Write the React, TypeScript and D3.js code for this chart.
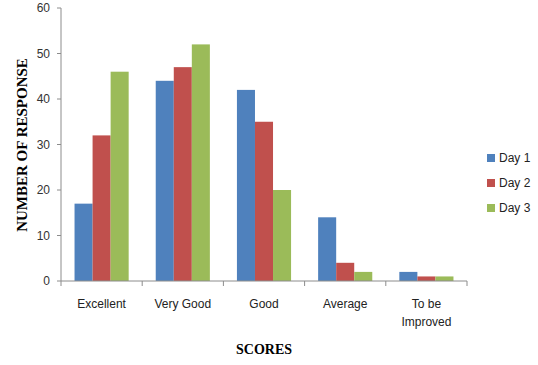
import * as d3 from "d3";
import React from "react";

const categories = ["Excellent", "Very Good", "Good", "Average", "To be Improved"];
const seriesNames = ["Day 1", "Day 2", "Day 3"];
const day1 = [17, 44, 42, 14, 2];
const day2 = [32, 47, 35, 4, 1];
const day3 = [46, 52, 20, 2, 1];
const yTicks = [0, 10, 20, 30, 40, 50, 60];
const colors = ["#4F81BD", "#C0504D", "#9BBB59"];

const width = 538;
const height = 365;
const margin = { top: 8, right: 71, bottom: 84, left: 61 };

export default function App() {
  const values = [day1, day2, day3];

  const x = d3
    .scaleBand()
    .domain(categories)
    .range([margin.left, width - margin.right]);

  const inner = d3
    .scaleBand()
    .domain(seriesNames)
    .range([0, x.bandwidth()])
    .paddingOuter(0.75)
    .paddingInner(0);

  const y = d3
    .scaleLinear()
    .domain([0, 60])
    .range([height - margin.bottom, margin.top]);

  const axisColor = "#8c8c8c";
  const labelFont = "'Liberation Sans', Arial, sans-serif";
  const y0 = y(0);

  const boundaries = categories.map((c) => x(c)).concat([width - margin.right]);

  return (
    <svg
      width={width}
      height={height}
      style={{ position: "absolute", left: 0, top: 0, background: "#fff" }}
    >
      {/* bars */}
      {values.map((vals, si) =>
        vals.map((v, ci) => (
          <rect
            key={`${si}-${ci}`}
            x={x(categories[ci]) + inner(seriesNames[si])}
            y={y(v)}
            width={inner.bandwidth()}
            height={y0 - y(v)}
            fill={colors[si]}
          />
        ))
      )}

      {/* y axis */}
      <line x1={margin.left} x2={margin.left} y1={y(60)} y2={y0} stroke={axisColor} />
      {yTicks.map((t) => (
        <g key={t}>
          <line x1={margin.left - 4} x2={margin.left} y1={y(t)} y2={y(t)} stroke={axisColor} />
          <text
            x={margin.left - 11}
            y={y(t)}
            dy="0.35em"
            textAnchor="end"
            fontFamily={labelFont}
            fontSize={12}
            fill="#333"
          >
            {t}
          </text>
        </g>
      ))}

      {/* x axis */}
      <line x1={margin.left} x2={width - margin.right} y1={y0} y2={y0} stroke={axisColor} />
      {boundaries.map((b, i) => (
        <line key={i} x1={b} x2={b} y1={y0} y2={y0 + 5} stroke={axisColor} />
      ))}
      {categories.map((c) => {
        const cx = x(c) + x.bandwidth() / 2;
        const lines = c === "To be Improved" ? ["To be", "Improved"] : [c];
        return (
          <text
            key={c}
            x={cx}
            y={308}
            textAnchor="middle"
            fontFamily={labelFont}
            fontSize={12}
            fill="#222"
          >
            {lines.map((l, i) => (
              <tspan key={l} x={cx} dy={i === 0 ? 0 : 18}>
                {l}
              </tspan>
            ))}
          </text>
        );
      })}

      {/* axis titles */}
      <text
        x={264}
        y={354}
        textAnchor="middle"
        fontFamily="'Liberation Serif', 'Times New Roman', serif"
        fontWeight="bold"
        fontSize={14}
        fill="#000"
      >
        SCORES
      </text>
      <text
        transform={`translate(27,${145}) rotate(-90)`}
        textAnchor="middle"
        fontFamily="'Liberation Serif', 'Times New Roman', serif"
        fontWeight="bold"
        fontSize={15}
        fill="#000"
      >
        NUMBER OF RESPONSE
      </text>

      {/* legend */}
      {seriesNames.map((s, i) => (
        <g key={s} transform={`translate(487,${158 + i * 25})`}>
          <rect x={0} y={-4} width={8} height={8} fill={colors[i]} />
          <text x={12} y={0} dy="0.35em" fontFamily={labelFont} fontSize={12} fill="#222">
            {s}
          </text>
        </g>
      ))}
    </svg>
  );
}
